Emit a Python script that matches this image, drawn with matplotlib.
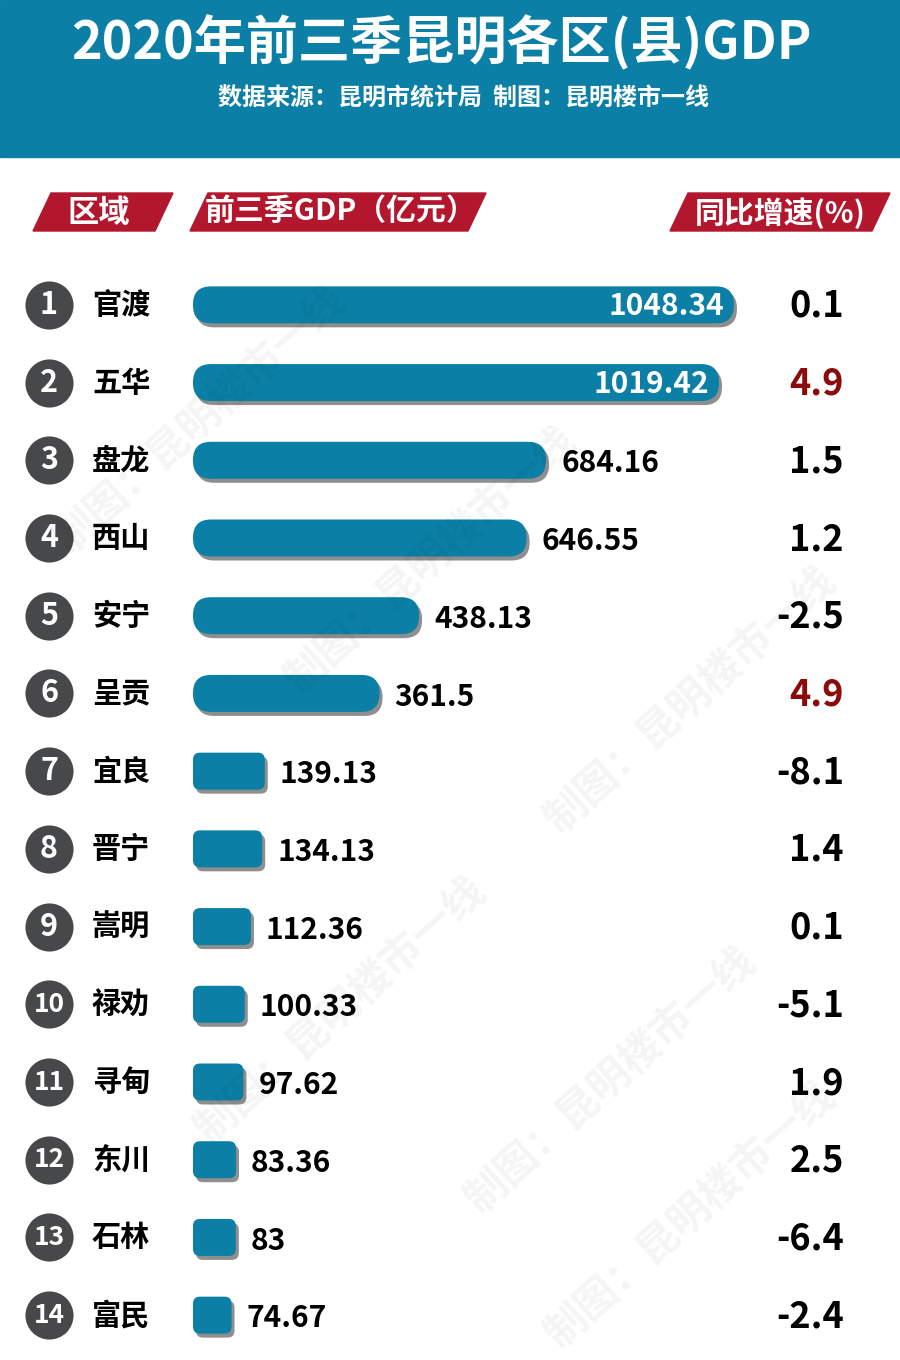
import matplotlib
matplotlib.use("Agg")
import matplotlib.pyplot as plt
from matplotlib.patches import FancyBboxPatch, Polygon, Rectangle
import matplotlib.transforms as mtransforms

plt.rcParams['font.family'] = ['Noto Sans CJK SC', 'DejaVu Sans']

# ---- data ----
districts = ["官渡", "五华", "盘龙", "西山", "安宁", "呈贡", "宜良",
             "晋宁", "嵩明", "禄劝", "寻甸", "东川", "石林", "富民"]
gdp = [1048.34, 1019.42, 684.16, 646.55, 438.13, 361.5, 139.13,
       134.13, 112.36, 100.33, 97.62, 83.36, 83, 74.67]
gdp_labels = ["1048.34", "1019.42", "684.16", "646.55", "438.13", "361.5", "139.13",
              "134.13", "112.36", "100.33", "97.62", "83.36", "83", "74.67"]
growth = ["0.1", "4.9", "1.5", "1.2", "-2.5", "4.9", "-8.1",
          "1.4", "0.1", "-5.1", "1.9", "2.5", "-6.4", "-2.4"]

title = "2020年前三季昆明各区(县)GDP"
subtitle = "数据来源：昆明市统计局  制图：昆明楼市一线"
head_area = "区域"
head_gdp = "前三季GDP（亿元）"
head_growth = "同比增速(%)"
watermark = "制图：昆明楼市一线"

TEAL = "#0b7fa6"
RED = "#b3172d"
DARK_RED = "#8b0a0a"
CIRCLE = "#47484a"

W, H = 900, 1360
fig = plt.figure(figsize=(W / 100, H / 100), dpi=100)

def fx(px):
    return px / W

def fy(py):
    return 1 - py / H

# ---- header band ----
fig.patches.append(Rectangle((0, fy(157)), 1, 157 / H, transform=fig.transFigure,
                             color=TEAL, zorder=0))
fig.text(fx(441), fy(43), title, color="white", fontsize=37.5, fontweight="bold",
         ha="center", va="center")
fig.text(fx(464), fy(98), subtitle, color="white", fontsize=17.3, fontweight="bold",
         ha="center", va="center")

# ---- watermark ----
for cx, cy in [(200, 420), (430, 560), (340, 1010), (610, 1080),
               (690, 700), (690, 1215)]:
    fig.text(fx(cx), fy(cy), watermark, color="#000000", alpha=0.045,
             fontsize=30, fontweight="bold", rotation=42, ha="center", va="center",
             zorder=0.5)

# ---- column headers (slanted red tags) ----
def tag(x0, x1):
    yt, yb, sl = 193, 231, 18
    pts = [(fx(x0 + sl), fy(yt)), (fx(x1), fy(yt)), (fx(x1 - sl), fy(yb)), (fx(x0), fy(yb))]
    fig.patches.append(Polygon(pts, closed=True, transform=fig.transFigure,
                               color=RED, zorder=1))

tag(33, 173)
fig.text(fx(99), fy(213), head_area, color="white",
         fontsize=22.5, fontweight="bold", ha="center", va="center")
tag(190, 486)
fig.text(fx(205), fy(211), head_gdp, color="white", fontsize=21.5, fontweight="bold",
         ha="left", va="center")
tag(670, 890)
fig.text(fx(780), fy(213), head_growth, color="white",
         fontsize=21.5, fontweight="bold", ha="center", va="center")

# ---- bar axes ----
px_per_unit = 0.516
top_px, bot_px = 266, 1354
ax = fig.add_axes([fx(193), fy(bot_px), fx(W - 193), (bot_px - top_px) / H])
ax.set_xlim(0, (W - 193) / px_per_unit)
n = len(districts)
ax.set_ylim(n - 0.5, -0.5)
ax.axis("off")
ax.patch.set_alpha(0)

row_px = (bot_px - top_px) / n
bar_h = 37 / row_px
ux = 1 / px_per_unit          # data x per pixel
uy = 1 / row_px               # data y per pixel
shadow_tr = mtransforms.offset_copy(ax.transData, fig=fig, x=3, y=-4, units="dots")

bars = ax.barh(range(n), gdp, height=bar_h, color="none")
for i, b in enumerate(bars):
    x0, y0, w, h = b.get_x(), b.get_y(), b.get_width(), b.get_height()
    r_px = 18 if w * px_per_unit > 150 else 7
    style = "round,pad=0,rounding_size=%f" % (r_px * ux)
    sh = FancyBboxPatch((x0, y0), w, h, boxstyle=style, mutation_aspect=uy / ux,
                        transform=shadow_tr, color="#333333", alpha=0.55, lw=0, zorder=2)
    ax.add_patch(sh)
    p = FancyBboxPatch((x0, y0), w, h, boxstyle=style, mutation_aspect=uy / ux,
                       color=TEAL, lw=0, zorder=3)
    ax.add_patch(p)
    b.remove()

    yc = y0 + h / 2
    if i < 2:
        ax.text(w - 10 * ux, yc + 0.02, gdp_labels[i], color="white", fontsize=21.5,
                fontweight="bold", ha="right", va="center", zorder=4)
    else:
        ax.text(w + 15 * ux, yc + 0.04, gdp_labels[i], color="black", fontsize=21.5,
                fontweight="bold", ha="left", va="center", zorder=4)

# ---- left side: rank circles and names, right side: growth ----
blend = mtransforms.blended_transform_factory(fig.transFigure, ax.transData)
ax.scatter([fx(49)] * n, range(n), s=1200, color=CIRCLE, transform=blend,
           clip_on=False, zorder=3, lw=0)
for i in range(n):
    ax.text(fx(49), i, str(i + 1), color="white", fontsize=22 if i < 9 else 19,
            fontweight="bold", ha="center", va="center", transform=blend, zorder=4)
    ax.text(fx(92), i, districts[i], color="black", fontsize=21, fontweight="bold",
            ha="left", va="center", transform=blend, zorder=4)
    col = DARK_RED if growth[i] == "4.9" else "black"
    ax.text(fx(844), i + 0.02, growth[i], color=col, fontsize=26, fontweight="bold",
            ha="right", va="center", transform=blend, zorder=4)

fig.savefig("out.png", dpi=100)
